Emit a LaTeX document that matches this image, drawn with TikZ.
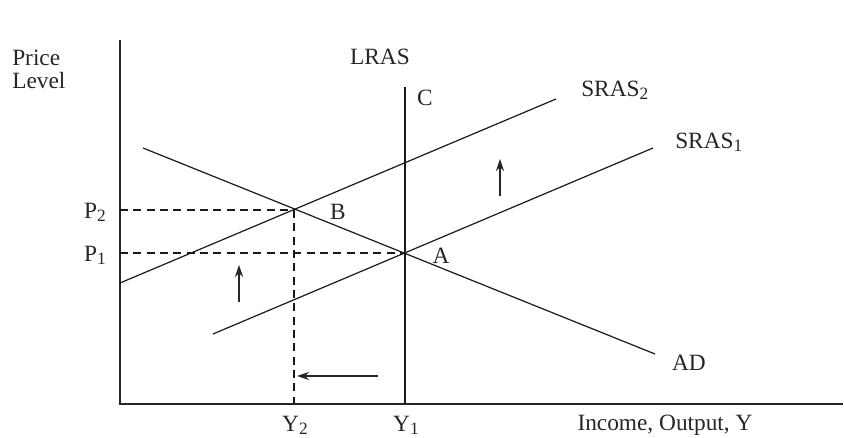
\documentclass[tikz,border=0pt]{standalone}
\usepackage{fontspec}
\setmainfont{Liberation Serif}
\usetikzlibrary{arrows.meta}
\newcommand{\lowidx}[1]{\raisebox{-0.3ex}{\fontsize{13}{13}\selectfont #1}}
\begin{document}
\begin{tikzpicture}[x=0.75pt,y=-0.75pt,
  every node/.style={font=\fontsize{17.5}{17.3}\selectfont, color=black!85, inner sep=0pt},
  axis/.style={line width=0.9pt, black!85},
  curve/.style={line width=0.9pt, black!90},
  guide/.style={line width=0.9pt, black!90, dash pattern=on 6pt off 4pt},
  shiftarrow/.style={line width=0.9pt, black!85, -{Stealth[length=9pt,width=6pt]}}]
\useasboundingbox (0,0) rectangle (844,438);
% coordinates
\coordinate (O) at (120,404);
\coordinate (ytop) at (120,40);
\coordinate (xend) at (843,404);
\coordinate (lrasTop) at (405,87);
\coordinate (lrasBot) at (405,404);
\coordinate (A) at (405,253);
\coordinate (B) at (294,210);
\coordinate (adS) at (143,148);
\coordinate (adE) at (655,354);
\coordinate (s2S) at (120,283);
\coordinate (s2E) at (556,99);
\coordinate (s1S) at (213,334);
\coordinate (s1E) at (653,148);
\coordinate (p2L) at (120,210);
\coordinate (p1L) at (120,253);
\coordinate (y2B) at (294,404);
% axes
\draw[axis] (ytop) -- (O) -- (xend);
% curves
\draw[curve] (lrasTop) -- (lrasBot);
\draw[curve] (adS) -- (adE);
\draw[curve] (s2S) -- (s2E);
\draw[curve] (s1S) -- (s1E);
% guides
\draw[guide] (p2L) -- (B);
\draw[guide] (p1L) -- (A);
\draw[guide] (B) -- (y2B);
% shift arrows
\coordinate (u1a) at (239,302); \coordinate (u1b) at (239,265);
\coordinate (u2a) at (500,196); \coordinate (u2b) at (500,159);
\coordinate (la) at (378,376); \coordinate (lb) at (297,376);
\draw[shiftarrow] (u1a) -- (u1b);
\draw[shiftarrow] (u2a) -- (u2b);
\draw[shiftarrow] (la) -- (lb);
% labels
\node[anchor=west, align=left] (plabel) at (12,69) {Price\\Level};
\node (lras) at (380,57) {LRAS};
\node (lc) at (425,98) {C};
\node[anchor=west] (ls2) at (581,90) {SRAS\lowidx{2}};
\node[anchor=west] (ls1) at (675,142) {SRAS\lowidx{1}};
\node (lb) at (338,212) {B};
\node (la) at (441,256) {A};
\node (lad) at (689,363) {AD};
\node (lp2) at (95,212) {P\lowidx{2}};
\node (lp1) at (95,255) {P\lowidx{1}};
\node (ly2) at (295,425) {Y\lowidx{2}};
\node (ly1) at (406,425) {Y\lowidx{1}};
\node (lx) at (665,425) {Income, Output, Y};
\end{tikzpicture}
\end{document}
